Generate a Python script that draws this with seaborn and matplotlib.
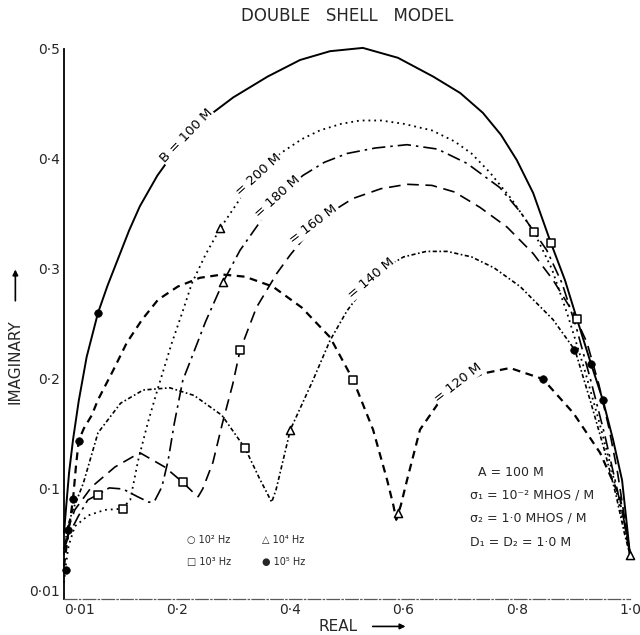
"""Double shell model - diagramme imaginaire / reel pour differents B
"""

import matplotlib
matplotlib.use("Agg")
import matplotlib.pyplot as plt
import seaborn as sns
import pandas as pd

# Courbes (partie reelle, partie imaginaire)
real_b100 = [0.0, 0.004, 0.009, 0.016, 0.026, 0.04, 0.06, 0.077, 0.096, 0.115, 0.134, 0.165, 0.2, 0.25, 0.299,
             0.36, 0.417, 0.47, 0.528, 0.59, 0.652, 0.7, 0.74, 0.772, 0.8, 0.829, 0.86, 0.885, 0.906, 0.931,
             0.952, 0.97, 0.986, 0.996, 1.0]
imag_b100 = [0.06, 0.085, 0.115, 0.145, 0.18, 0.22, 0.26, 0.285, 0.31, 0.335, 0.357, 0.385, 0.41, 0.437, 0.456,
             0.475, 0.49, 0.498, 0.501, 0.492, 0.475, 0.46, 0.442, 0.422, 0.399, 0.369, 0.324, 0.29, 0.255, 0.214,
             0.181, 0.145, 0.108, 0.06, 0.04]

real_b200 = [0.0, 0.003, 0.008, 0.019, 0.043, 0.072, 0.102, 0.117, 0.131, 0.148, 0.165, 0.19, 0.21, 0.226, 0.25,
             0.276, 0.31, 0.345, 0.382, 0.42, 0.452, 0.49, 0.523, 0.56, 0.6, 0.65, 0.69, 0.72, 0.752, 0.79, 0.83,
             0.862, 0.89, 0.92, 0.945, 0.968, 0.985, 1.0]
imag_b200 = [0.015, 0.03, 0.048, 0.066, 0.076, 0.081, 0.082, 0.09, 0.126, 0.16, 0.19, 0.232, 0.262, 0.287, 0.313,
             0.337, 0.363, 0.386, 0.405, 0.418, 0.426, 0.432, 0.435, 0.435, 0.432, 0.426, 0.416, 0.405, 0.388, 0.364,
             0.334, 0.3, 0.258, 0.208, 0.162, 0.117, 0.076, 0.04]

real_b180 = [0.0, 0.01, 0.025, 0.042, 0.06, 0.08, 0.104, 0.13, 0.15, 0.16, 0.173, 0.184, 0.195, 0.21, 0.226,
             0.25, 0.281, 0.311, 0.352, 0.39, 0.422, 0.46, 0.5, 0.55, 0.606, 0.66, 0.712, 0.77, 0.806, 0.853,
             0.88, 0.905, 0.93, 0.955, 0.975, 0.99, 1.0]
imag_b180 = [0.045, 0.06, 0.075, 0.09, 0.095, 0.101, 0.1, 0.093, 0.088, 0.089, 0.102, 0.126, 0.16, 0.199, 0.22,
             0.252, 0.288, 0.317, 0.347, 0.37, 0.385, 0.397, 0.405, 0.41, 0.413, 0.409, 0.396, 0.374, 0.352, 0.317,
             0.287, 0.247, 0.2, 0.15, 0.105, 0.07, 0.04]

real_b160 = [0.0, 0.008, 0.019, 0.049, 0.09, 0.134, 0.178, 0.21, 0.228, 0.237, 0.245, 0.263, 0.28, 0.298, 0.311,
             0.34, 0.376, 0.4, 0.435, 0.47, 0.51, 0.56, 0.606, 0.65, 0.69, 0.735, 0.783, 0.829, 0.864, 0.9,
             0.924, 0.945, 0.963, 0.978, 0.99, 1.0]
imag_b160 = [0.045, 0.065, 0.081, 0.102, 0.12, 0.133, 0.12, 0.106, 0.097, 0.093, 0.1, 0.124, 0.16, 0.195, 0.226,
             0.265, 0.296, 0.313, 0.335, 0.351, 0.364, 0.373, 0.377, 0.376, 0.37, 0.356, 0.338, 0.314, 0.29, 0.26,
             0.233, 0.195, 0.155, 0.115, 0.075, 0.04]

real_b140 = [0.0, 0.005, 0.015, 0.034, 0.06, 0.1, 0.14, 0.187, 0.23, 0.279, 0.32, 0.345, 0.36, 0.367, 0.375,
             0.4, 0.44, 0.47, 0.5, 0.541, 0.57, 0.6, 0.64, 0.677, 0.72, 0.76, 0.806, 0.864, 0.903, 0.93, 0.955,
             0.975, 0.99, 1.0]
imag_b140 = [0.04, 0.063, 0.08, 0.105, 0.151, 0.178, 0.19, 0.192, 0.185, 0.167, 0.137, 0.11, 0.095, 0.088, 0.1,
             0.154, 0.199, 0.235, 0.262, 0.29, 0.302, 0.311, 0.316, 0.316, 0.311, 0.301, 0.284, 0.254, 0.226, 0.18,
             0.135, 0.095, 0.06, 0.04]

real_b120 = [0.0, 0.008, 0.016, 0.021, 0.026, 0.035, 0.049, 0.06, 0.072, 0.087, 0.111, 0.138, 0.166, 0.201, 0.24,
             0.28, 0.32, 0.369, 0.42, 0.47, 0.511, 0.546, 0.571, 0.582, 0.587, 0.595, 0.606, 0.629, 0.664, 0.7,
             0.74, 0.788, 0.846, 0.9, 0.947, 0.982, 1.0]
imag_b120 = [0.03, 0.062, 0.091, 0.12, 0.144, 0.155, 0.167, 0.181, 0.193, 0.208, 0.233, 0.254, 0.272, 0.284, 0.292,
             0.295, 0.293, 0.284, 0.265, 0.238, 0.199, 0.154, 0.108, 0.085, 0.072, 0.085, 0.108, 0.154, 0.18, 0.195,
             0.205, 0.21, 0.2, 0.169, 0.133, 0.093, 0.042]

# Points de frequence
sq_real = [0.06, 0.104, 0.21, 0.311, 0.32, 0.511, 0.83, 0.86, 0.906]      # 10^3 Hz
sq_imag = [0.095, 0.082, 0.106, 0.226, 0.137, 0.199, 0.334, 0.324, 0.255]
tri_real = [0.276, 0.281, 0.4, 0.59, 1.0]                                  # 10^4 Hz
tri_imag = [0.337, 0.288, 0.154, 0.078, 0.04]
dot_real = [0.004, 0.007, 0.016, 0.026, 0.06, 0.846, 0.901, 0.931, 0.952]  # 10^5 Hz
dot_imag = [0.026, 0.063, 0.091, 0.144, 0.26, 0.2, 0.226, 0.214, 0.181]

x_ticks = [0, 0.2, 0.4, 0.6, 0.8, 1.0]
x_ticklabels = ["0·01", "0·2", "0·4", "0·6", "0·8", "1·0"]
y_ticks = [0, 0.1, 0.2, 0.3, 0.4, 0.5]
y_ticklabels = ["0·01", "0·1", "0·2", "0·3", "0·4", "0·5"]

sns.set_theme(style="white")
plt.rcParams['font.family'] = ['DejaVu Sans']

fig = plt.figure(figsize=(6.4, 6.35), dpi=100)
ax = fig.add_axes([64 / 640, 36 / 635, 566 / 640, 550 / 635])

courbes = [
    (real_b100, imag_b100, "-", 1.4),
    (real_b200, imag_b200, (0, (1, 2.2)), 1.3),
    (real_b180, imag_b180, (0, (8, 3, 1.5, 3)), 1.2),
    (real_b160, imag_b160, (0, (7, 4)), 1.2),
    (real_b140, imag_b140, (0, (2.5, 1.5, 1, 1.5)), 1.2),
    (real_b120, imag_b120, (0, (3.5, 2.5)), 1.6),
]
for xs, ys, ls, lw in courbes:
    df = pd.DataFrame({"real": xs, "imag": ys})
    sns.lineplot(data=df, x="real", y="imag", sort=False, estimator=None, ax=ax,
                 color="black", linewidth=lw, linestyle=ls, clip_on=False)

sns.scatterplot(x=sq_real, y=sq_imag, marker="s", s=28, facecolor="white", edgecolor="black",
                linewidth=1.1, ax=ax, zorder=5, clip_on=False)
sns.scatterplot(x=tri_real, y=tri_imag, marker="^", s=34, facecolor="white", edgecolor="black",
                linewidth=1.1, ax=ax, zorder=5, clip_on=False)
sns.scatterplot(x=dot_real, y=dot_imag, marker="o", s=30, color="black", edgecolor="black",
                ax=ax, zorder=5, clip_on=False)

# Etiquettes des courbes, posees sur la courbe (la courbe est interrompue)
labels_courbes = [
    ("B = 100 M", 0.217, 0.421, 46),
    ("= 200 M", 0.343, 0.386, 42),
    ("= 180 M", 0.378, 0.366, 42),
    ("= 160 M", 0.44, 0.341, 37),
    ("= 140 M", 0.542, 0.292, 40),
    ("= 120 M", 0.696, 0.196, 38),
]
for txt, x, y, rot in labels_courbes:
    ax.text(x, y, txt, rotation=rot, rotation_mode="anchor", ha="center", va="center",
            fontsize=9.5, color="black", zorder=4,
            bbox=dict(facecolor="white", edgecolor="none", pad=0.6))

# Legende des frequences
ax.text(0.217, 0.054, "○ 10² Hz", fontsize=7, va="center")
ax.text(0.35, 0.054, "△ 10⁴ Hz", fontsize=7, va="center")
ax.text(0.217, 0.034, "□ 10³ Hz", fontsize=7, va="center")
ax.text(0.35, 0.034, "● 10⁵ Hz", fontsize=7, va="center")

# Parametres du modele
ax.text(0.731, 0.115, "A = 100 M", fontsize=9, va="center")
ax.text(0.717, 0.095, "σ₁ = 10⁻² MHOS / M", fontsize=9, va="center")
ax.text(0.717, 0.074, "σ₂ = 1·0 MHOS / M", fontsize=9, va="center")
ax.text(0.717, 0.051, "D₁ = D₂ = 1·0 M", fontsize=9, va="center")

ax.set_xlim(0, 1.0)
ax.set_ylim(0, 0.5)
ax.set_xticks(x_ticks)
ax.set_xticklabels(x_ticklabels)
ax.set_yticks(y_ticks)
ax.set_yticklabels(y_ticklabels)
ax.tick_params(axis="both", direction="in", length=12, width=1, labelsize=10, pad=3, color="black")
ax.get_xticklabels()[0].set_ha("left")
ax.get_yticklabels()[0].set_va("bottom")
ax.set_xlabel("")
ax.set_ylabel("")

for s in ["top", "right"]:
    ax.spines[s].set_visible(False)
ax.spines["left"].set_color("black")
ax.spines["left"].set_linewidth(1.3)
ax.spines["bottom"].set_color("0.35")
ax.spines["bottom"].set_linewidth(0.9)
ax.spines["bottom"].set_linestyle((0, (10, 2, 1, 2)))

# Titre et noms des axes
fig.text(0.543, 0.975, "DOUBLE   SHELL   MODEL", ha="center", va="center", fontsize=12)
fig.text(0.528, 0.0135, "REAL", ha="center", va="center", fontsize=11)
fig.text(0.024, 0.43, "IMAGINARY", ha="center", va="center", fontsize=11, rotation=90)
ax.annotate("", xy=(0.638, 0.0135), xytext=(0.578, 0.0135), xycoords="figure fraction",
            arrowprops=dict(arrowstyle="-|>", color="black", lw=1.2, mutation_scale=8))
ax.annotate("", xy=(0.024, 0.58), xytext=(0.024, 0.522), xycoords="figure fraction",
            arrowprops=dict(arrowstyle="-|>", color="black", lw=1.2, mutation_scale=8))

plt.savefig("out.png", dpi=100)
